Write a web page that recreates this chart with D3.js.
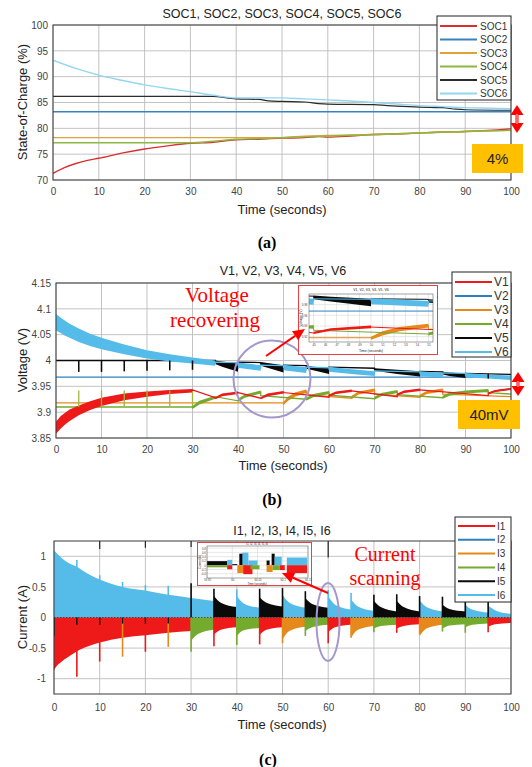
<!DOCTYPE html>
<html><head><meta charset="utf-8">
<script src="https://cdn.jsdelivr.net/npm/d3@7"></script>
<style>body{margin:0;background:#fff}svg{display:block}</style>
</head><body>
<script>
// ================= DATA =================
const timeTicks = [0,10,20,30,40,50,60,70,80,90,100];
const socTicks = [70,75,80,85,90,95,100];
const voltTicks = [3.85,3.9,3.95,4,4.05,4.1,4.15];
const currTicks = [-1,-0.5,0,0.5,1];

const socNames = ["SOC1","SOC2","SOC3","SOC4","SOC5","SOC6"];
const voltNames = ["V1","V2","V3","V4","V5","V6"];
const currNames = ["I1","I2","I3","I4","I5","I6"];

// SOC [time, %]
const SOC1 = [[0,71.3],[2.5,72.4],[5,73.2],[7.5,73.8],[10,74.2],[15,75.2],[20,76.0],[25,76.6],[30,77.1],[35,77.3],[40,77.8],[45,77.9],[50,78.1],[55,78.2],[58,78.4],[60,78.3],[65,78.5],[70,78.8],[75,78.9],[80,79.1],[85,79.3],[90,79.4],[95,79.6],[100,79.9]];
const SOC2 = [[0,83.2],[100,83.2]];
const SOC3 = [[0,78.2],[50,78.2],[55,78.5],[60,78.6],[70,78.8],[80,79.1],[90,79.4],[100,79.6]];
const SOC4 = [[0,77.2],[30,77.2],[35,77.5],[40,77.9],[45,78.0],[50,78.2],[60,78.5],[70,78.8],[80,79.1],[90,79.4],[100,79.6]];
const SOC5 = [[0,86.2],[35,86.2],[38,85.9],[40,85.7],[45,85.6],[47,85.3],[50,85.2],[55,85.1],[58,84.8],[60,84.7],[70,84.6],[73,84.4],[75,84.3],[80,84.1],[85,84.0],[88,83.7],[90,83.6],[100,83.5]];
const SOC6 = [[0,93.2],[5,91.6],[10,90.3],[15,89.3],[20,88.4],[25,87.7],[30,87.1],[35,86.4],[40,85.9],[45,85.9],[50,85.9],[55,85.7],[60,85.5],[65,85.3],[70,85.0],[75,84.7],[80,84.4],[85,84.2],[90,84.0],[95,83.9],[100,83.8]];

// Voltage bands [time, low, high]
const V1 = [[0,3.858,3.882],[0.5,3.863,3.887],[1,3.868,3.892],[2,3.876,3.899],[3,3.883,3.905],[5,3.894,3.913],[7.5,3.904,3.921],[10,3.912,3.928],[15,3.923,3.936],[20,3.930,3.940],[25,3.935,3.943],[30,3.938,3.945],
  [30,3.943,3.943],[35,3.928,3.928],
  [35,3.925,3.929],[36.5,3.931,3.936],[40,3.935,3.940],
  [40,3.938,3.938],[45,3.927,3.927],
  [45,3.925,3.929],[46.5,3.931,3.936],[50,3.936,3.941],
  [50,3.938,3.938],[60,3.929,3.929],
  [60,3.930,3.934],[61.5,3.935,3.940],[65,3.939,3.944],
  [65,3.941,3.941],[75,3.930,3.930],
  [75,3.932,3.936],[76.5,3.937,3.942],[80,3.941,3.946],
  [80,3.943,3.943],[95,3.932,3.932],
  [95,3.934,3.938],[96.5,3.939,3.943],[100,3.943,3.947]];
const V2 = [[0,3.968,3.968],[100,3.968,3.968]];
const V3 = [[0,3.918,3.918],[50,3.918,3.918],
  [50,3.914,3.920],[51,3.922,3.930],[52.5,3.930,3.938],[55,3.937,3.944],
  [55,3.934,3.934],[65,3.927,3.927],
  [65,3.926,3.932],[66.5,3.934,3.940],[70,3.940,3.946],
  [70,3.935,3.935],[80,3.929,3.929],
  [80,3.928,3.934],[81.5,3.935,3.941],[85,3.940,3.946],
  [85,3.935,3.935],[100,3.930,3.930]];
const V4 = [[0,3.910,3.910],[30,3.910,3.910],
  [30,3.906,3.912],[31.5,3.915,3.922],[35,3.926,3.932],
  [35,3.930,3.930],[40,3.922,3.922],
  [40,3.920,3.926],[41.5,3.928,3.934],[45,3.936,3.942],
  [45,3.932,3.932],[55,3.925,3.925],
  [55,3.922,3.928],[56.5,3.929,3.935],[60,3.935,3.941],
  [60,3.933,3.933],[70,3.926,3.926],
  [70,3.924,3.930],[71.5,3.931,3.937],[75,3.937,3.943],
  [75,3.934,3.934],[85,3.928,3.928],
  [85,3.926,3.932],[86.5,3.932,3.938],[90,3.936,3.942],[95,3.939,3.945],
  [95,3.938,3.938],[100,3.935,3.935]];
const V5 = [[0,4.0,4.0],[35,4.0,4.0],
  [35,3.993,4.000],[36.5,3.988,3.998],[40,3.978,3.994],
  [40,3.997,3.997],[45,3.996,3.996],
  [45,3.990,3.997],[46.5,3.986,3.995],[50,3.977,3.991],
  [50,3.991,3.991],[55,3.990,3.990],
  [55,3.984,3.990],[56.5,3.981,3.988],[60,3.974,3.986],
  [60,3.987,3.987],[70,3.985,3.985],
  [70,3.980,3.985],[75,3.974,3.982],[80,3.969,3.979],
  [80,3.979,3.979],[85,3.978,3.978],
  [85,3.973,3.978],[86.5,3.970,3.977],[90,3.966,3.975],
  [90,3.975,3.975],[100,3.973,3.973]];
const V6 = [[0,4.058,4.090],[1,4.053,4.083],[2,4.048,4.077],[3,4.044,4.071],[5,4.036,4.062],[7.5,4.028,4.052],[10,4.022,4.044],[15,4.012,4.031],[20,4.004,4.020],[25,3.998,4.012],[30,3.994,4.006],[35,3.990,4.000],
  [35,3.997,3.997],[40,3.996,3.996],
  [40,3.986,3.996],[45,3.980,3.991],
  [45,3.991,3.991],[50,3.990,3.990],
  [50,3.981,3.992],[55,3.976,3.987],
  [55,3.987,3.987],[60,3.986,3.986],
  [60,3.978,3.988],[65,3.974,3.983],[70,3.970,3.979],
  [70,3.980,3.980],[80,3.978,3.978],
  [80,3.970,3.979],[85,3.967,3.976],
  [85,3.976,3.976],[90,3.975,3.975],
  [90,3.967,3.976],[95,3.965,3.973],[100,3.962,3.971]];
// scanning spikes in voltage [time, from, to]
const V5spikes = [[5,4.0,3.978],[10,4.0,3.978],[15,4.0,3.979],[20,4.0,3.980],[25,4.0,3.981],[30,4.0,3.982],[95,3.974,3.965]];
const V4spikes = [[5,3.910,3.942],[10,3.910,3.942],[15,3.910,3.942],[20,3.910,3.942],[25,3.910,3.942],[30,3.912,3.940]];

// Current envelopes
const I6start = [[0,1.1],[1,1.02],[2,0.95],[3,0.9],[5,0.83],[7.5,0.71],[10,0.62],[12.5,0.55],[15,0.5],[20,0.44],[25,0.37],[30,0.32],[35,0.27]];
const I1start = [[0,-0.86],[0.5,-0.8],[1.5,-0.73],[3,-0.65],[5,-0.55],[7.5,-0.47],[10,-0.41],[15,-0.33],[20,-0.29],[25,-0.25],[30,-0.22]];
// [cell, t0, tMid, t1, vStart, vMid, vEnd]
const posSegs = [
  [5,35,36.5,40,0.35,0.24,0.17],[6,40,41.5,45,0.35,0.23,0.16],[5,45,46.5,50,0.33,0.24,0.18],
  [6,50,51.5,55,0.37,0.24,0.16],[5,55,56.5,60,0.32,0.22,0.16],[6,60,61.5,65,0.35,0.21,0.13],
  [6,65,66.5,70,0.30,0.18,0.11],[5,70,71.5,75,0.27,0.17,0.10],[5,75,76.5,80,0.27,0.17,0.10],
  [6,80,81.5,85,0.28,0.17,0.10],[5,85,86.5,90,0.21,0.14,0.10],[6,90,91.5,95,0.21,0.13,0.08],
  [6,95,96.5,100,0.19,0.12,0.06]];
const negSegs = [
  [4,30,31.5,35,-0.38,-0.27,-0.20],[1,35,36.5,40,-0.28,-0.20,-0.16],[4,40,41.5,45,-0.30,-0.21,-0.17],
  [1,45,46.5,50,-0.28,-0.20,-0.16],[3,50,51.5,55,-0.36,-0.22,-0.15],[4,55,56.5,60,-0.22,-0.16,-0.12],
  [1,60,61.5,65,-0.24,-0.16,-0.12],[3,65,66.5,70,-0.33,-0.20,-0.14],[4,70,71.5,75,-0.18,-0.14,-0.12],
  [1,75,76.5,80,-0.18,-0.14,-0.11],[3,80,81.5,85,-0.30,-0.18,-0.12],[4,85,86.5,90,-0.18,-0.13,-0.11],
  [4,90,91.5,95,-0.16,-0.12,-0.10],[1,95,96.5,100,-0.15,-0.11,-0.09]];
// spikes [time, cell, value]
const posSpikes = [[5,6,0.94],[10,6,0.69],[15,6,0.58],[20,6,0.53],[25,6,0.52],[30,5,0.56],[35,5,0.47],[40,6,0.46],[45,5,0.47],[50,5,0.48],[55,5,0.43],[60,6,0.45],[65,6,0.4],[70,5,0.37],[75,5,0.38],[80,5,0.35],[85,5,0.34],[90,5,0.3],[95,5,0.32]];
const negSpikes = [[0,5,-0.3],[5,1,-0.97],[10,1,-0.72],[15,3,-0.64],[20,1,-0.56],[25,3,-0.48],[30,4,-0.56],[35,1,-0.47],[40,4,-0.45],[45,1,-0.44],[50,3,-0.42],[55,4,-0.3],[60,1,-0.42],[65,3,-0.33],[70,4,-0.24],[75,1,-0.25],[80,3,-0.28],[85,4,-0.23],[90,4,-0.25],[95,1,-0.24]];
const blackNegMarks = [[5,-0.12],[10,-0.12],[15,-0.1],[20,-0.1],[25,-0.1]];
const topMarks = [[10,1.12],[20,1.14],[30,1.15],[60,0.98]];

// Inset (b): zoom of voltage
const insetBTime = [44.6,55.4];
const insetBVolt = [3.91,4.0];
const insetBXTicks = [45,46,47,48,49,50,51,52,53,54,55];
const insetBYTicks = [3.92,3.94,3.96,3.98];
// Inset (c): current scanning around 60 s  [t0, t1, cell, value]
const insetCTime = [59.95,60.15];
const insetCCurr = [-0.6,0.9];
const insetCXTicks = [59.95,60,60.05,60.1,60.15];
const insetCYTicks = [-0.4,-0.2,0,0.2,0.4,0.6,0.8];
const insetCBlocks = [
  [59.95,59.99,5,0.19],[59.99,60.0,6,0.25],[59.95,59.99,4,-0.1],[59.99,60.0,1,-0.19],
  [60.0,60.01,5,0.05],[60.014,60.022,5,0.54],[60.02,60.032,6,0.59],[60.032,60.05,6,0.22],
  [60.01,60.026,3,-0.37],[60.022,60.04,1,-0.42],[60.036,60.054,4,-0.19],
  [60.068,60.074,5,0.22],[60.078,60.084,5,0.54],[60.084,60.098,6,0.4],
  [60.068,60.08,3,-0.32],[60.08,60.094,4,-0.23],[60.094,60.104,1,-0.23],
  [60.108,60.148,6,0.36],[60.108,60.148,1,-0.37]];

// ================= STYLE =================
const COL = {1:"#ee1a1a",2:"#2f7fbf",3:"#e5891a",4:"#74ab2e",5:"#0a0a0a",6:"#55bcea"};
const SOCCOL = ["#d9302f","#3a82bd","#e0a03a","#8cb842","#2b2b2b","#93d6f0"];
const GRID = "#bcbcbc";
const FONT = "'Liberation Sans', Arial, sans-serif";
const SERIF = "'Liberation Serif', 'Times New Roman', serif";

const svg = d3.select("body").append("svg").attr("width",532).attr("height",767)
  .style("font-family",FONT);

let clipN = 0;
function panel(cfg){
  const {x,y,xt,yt} = cfg;
  const [x0,x1] = x.range(), [yb,yt0] = y.range();
  const g = svg.append("g");
  g.append("rect").attr("x",x0).attr("y",yt0).attr("width",x1-x0).attr("height",yb-yt0).attr("fill","#fff");
  g.append("g").selectAll("line").data(xt).join("line")
    .attr("x1",d=>x(d)).attr("x2",d=>x(d)).attr("y1",yt0).attr("y2",yb)
    .attr("stroke",cfg.grid||GRID).attr("stroke-width",cfg.gw||0.9);
  g.append("g").selectAll("line").data(yt).join("line")
    .attr("y1",d=>y(d)).attr("y2",d=>y(d)).attr("x1",x0).attr("x2",x1)
    .attr("stroke",cfg.grid||GRID).attr("stroke-width",cfg.gw||0.9);
  const id = "clip"+(clipN++);
  svg.append("clipPath").attr("id",id).append("rect")
    .attr("x",x0).attr("y",yt0).attr("width",x1-x0).attr("height",yb-yt0);
  const data = g.append("g").attr("clip-path",`url(#${id})`);
  return {g,data};
}
function frame(g,cfg){
  const {x,y,xt,yt} = cfg;
  const [x0,x1] = x.range(), [yb,yt0] = y.range();
  g.append("rect").attr("x",x0).attr("y",yt0).attr("width",x1-x0).attr("height",yb-yt0)
    .attr("fill","none").attr("stroke",cfg.frameCol||"#3a3a3a").attr("stroke-width",cfg.fw||1);
  const fs = cfg.tickFs||10;
  const ax = g.append("g").attr("transform",`translate(0,${yb})`)
    .call(d3.axisBottom(x).tickValues(xt).tickSize(0).tickPadding(cfg.xPad).tickFormat(d=>String(d)));
  const ay = g.append("g").attr("transform",`translate(${x0},0)`)
    .call(d3.axisLeft(y).tickValues(yt).tickSize(0).tickPadding(cfg.yPad).tickFormat(d=>String(d)));
  [ax,ay].forEach(a=>{a.select(".domain").remove();
    a.selectAll("text").attr("fill",cfg.tickCol||"#444").style("font-size",fs+"px").style("font-family",FONT);});
}

// ================= PANEL (a) SOC =================
const xA = d3.scaleLinear().domain([0,100]).range([53,511]);
const yA = d3.scaleLinear().domain([70,100]).range([180,25]);
const cfgA = {x:xA,y:yA,xt:timeTicks,yt:socTicks,xPad:8,yPad:5};
const pA = panel(cfgA);
const lineA = d3.line().x(d=>xA(d[0])).y(d=>yA(d[1])).curve(d3.curveMonotoneX);
[SOC1,SOC2,SOC3,SOC4,SOC5,SOC6].forEach((s,i)=>{
  pA.data.append("path").attr("d",lineA(s)).attr("fill","none")
    .attr("stroke",SOCCOL[i]).attr("stroke-width",i===4?1.2:1.4);
});
frame(pA.g,cfgA);

// ================= PANEL (b) VOLTAGE =================
const xB = d3.scaleLinear().domain([0,100]).range([56,511]);
const yB = d3.scaleLinear().domain([3.85,4.15]).range([438,283]);
const cfgB = {x:xB,y:yB,xt:timeTicks,yt:voltTicks,xPad:8,yPad:5};
const pB = panel(cfgB);
function drawVolt(target,x,y,lw){
  const area = d3.area().x(d=>x(d[0])).y0(d=>y(d[1])).y1(d=>y(d[2]));
  const line = d3.line().x(d=>x(d[0])).y(d=>y((d[1]+d[2])/2));
  const order = [[V2,2],[V3,3],[V4,4],[V1,1],[V5,5],[V6,6]];
  order.forEach(([s,c])=>{
    target.append("path").attr("d",area(s)).attr("fill",COL[c]).attr("stroke","none");
    target.append("path").attr("d",line(s)).attr("fill","none").attr("stroke",COL[c]).attr("stroke-width",lw);
  });
  target.append("g").selectAll("line").data(V4spikes).join("line")
    .attr("x1",d=>x(d[0])).attr("x2",d=>x(d[0])).attr("y1",d=>y(d[1])).attr("y2",d=>y(d[2]))
    .attr("stroke","#9bb83a").attr("stroke-width",lw);
  target.append("g").selectAll("line").data(V5spikes).join("line")
    .attr("x1",d=>x(d[0])).attr("x2",d=>x(d[0])).attr("y1",d=>y(d[1])).attr("y2",d=>y(d[2]))
    .attr("stroke",COL[5]).attr("stroke-width",lw*1.2);
}
drawVolt(pB.data,xB,yB,1.3);
frame(pB.g,cfgB);

// ================= PANEL (c) CURRENT =================
const xC = d3.scaleLinear().domain([0,100]).range([54,511]);
const yC = d3.scaleLinear().domain([-1.25,1.25]).range([694,541]);
const cfgC = {x:xC,y:yC,xt:timeTicks,yt:currTicks,xPad:10,yPad:8};
const pC = panel(cfgC);
const areaC = d3.area().x(d=>xC(d[0])).y0(yC(0)).y1(d=>yC(d[1])).curve(d3.curveMonotoneX);
pC.data.append("path").attr("d",areaC(I6start)).attr("fill",COL[6]);
pC.data.append("path").attr("d",areaC(I1start)).attr("fill",COL[1]);
posSegs.concat(negSegs).forEach(s=>{
  const pts = [[s[1],s[4]],[s[2],s[5]],[s[3],s[6]]];
  pC.data.append("path").attr("d",areaC(pts)).attr("fill",COL[s[0]]);
});
pC.data.append("g").selectAll("line").data(posSpikes.concat(negSpikes)).join("line")
  .attr("x1",d=>xC(d[0])).attr("x2",d=>xC(d[0])).attr("y1",yC(0)).attr("y2",d=>yC(d[2]))
  .attr("stroke",d=>COL[d[1]]).attr("stroke-width",1.6);
pC.data.append("g").selectAll("line").data(blackNegMarks).join("line")
  .attr("x1",d=>xC(d[0])).attr("x2",d=>xC(d[0])).attr("y1",yC(0)).attr("y2",d=>yC(d[1]))
  .attr("stroke","#111").attr("stroke-width",1.4);
pC.data.append("g").selectAll("line").data(topMarks).join("line")
  .attr("x1",d=>xC(d[0])).attr("x2",d=>xC(d[0])).attr("y1",yC(1.25)).attr("y2",d=>yC(d[1]))
  .attr("stroke","#222").attr("stroke-width",1.2);
pC.data.append("line").attr("x1",xC(0)).attr("x2",xC(100)).attr("y1",yC(0)).attr("y2",yC(0))
  .attr("stroke","#333").attr("stroke-width",0.8).attr("stroke-dasharray","1.5,1.5");
frame(pC.g,cfgC);

// ================= TEXT =================
function txt(x,y,s,opt={}){
  const t = svg.append("text").attr("x",x).attr("y",y).text(s)
    .attr("text-anchor",opt.anchor||"middle").style("font-size",(opt.fs||12)+"px")
    .style("font-family",opt.ff||FONT).attr("fill",opt.fill||"#222");
  if(opt.bold) t.style("font-weight","bold");
  if(opt.rot) t.attr("transform",`rotate(-90,${x},${y})`);
  return t;
}
// titles
txt(282,18,"SOC1, SOC2, SOC3, SOC4, SOC5, SOC6",{fs:12.5});
txt(283,275,"V1, V2, V3, V4, V5, V6",{fs:12.5});
txt(282,535,"I1, I2, I3, I4, I5, I6",{fs:12.5});
// x labels
txt(282,214,"Time (seconds)",{fs:13});
txt(283,470,"Time (seconds)",{fs:13});
txt(282,729,"Time (seconds)",{fs:13});
// y labels
txt(27,102,"State-of-Charge (%)",{fs:13,rot:true});
txt(27,360,"Voltage (V)",{fs:13,rot:true});
txt(27,617,"Current (A)",{fs:13,rot:true});
// panel letters
txt(267,248,"(a)",{fs:16,ff:SERIF,bold:true,fill:"#000"});
txt(272,505,"(b)",{fs:16,ff:SERIF,bold:true,fill:"#000"});
txt(268,765,"(c)",{fs:16,ff:SERIF,bold:true,fill:"#000"});

// ================= LEGENDS =================
function legend(bx,by,bw,bh,names,cols,lx1,lx2,tx,y0,dy,fs){
  const g = svg.append("g");
  g.append("rect").attr("x",bx).attr("y",by).attr("width",bw).attr("height",bh)
    .attr("fill","#fff").attr("stroke","#222").attr("stroke-width",1);
  names.forEach((n,i)=>{
    const yy = y0+i*dy;
    g.append("line").attr("x1",lx1).attr("x2",lx2).attr("y1",yy).attr("y2",yy)
      .attr("stroke",cols[i]).attr("stroke-width",2);
    g.append("text").attr("x",tx).attr("y",yy).attr("dy","0.35em").text(n)
      .style("font-size",fs+"px").attr("fill","#333");
  });
}
legend(437,16,74,84,socNames,SOCCOL,440,477,480,26,13.5,10);
legend(452,272,59,85,voltNames,[1,2,3,4,5,6].map(c=>COL[c]),455,492,494,282,14,12);
legend(455,517,56,85,currNames,[1,2,3,4,5,6].map(c=>COL[c]),458,495,497,526,13.8,10);

// ================= ANNOTATIONS =================
function dblArrow(x,y1,y2){
  const g = svg.append("g").attr("fill","#ff0000");
  g.append("rect").attr("x",x-1.5).attr("y",y1+6).attr("width",3).attr("height",y2-y1-12);
  g.append("path").attr("d",`M${x},${y1} L${x+6.5},${y1+10} L${x-6.5},${y1+10}Z`);
  g.append("path").attr("d",`M${x},${y2} L${x+6.5},${y2-10} L${x-6.5},${y2-10}Z`);
  g.append("line").attr("x1",x).attr("x2",x).attr("y1",y1+9).attr("y2",y2-9).attr("stroke","#fff").attr("stroke-width",0.8);
}
function badge(x,y,w,h,s){
  svg.append("rect").attr("x",x).attr("y",y).attr("width",w).attr("height",h).attr("fill","#ffc000");
  txt(x+w/2,y+h/2,s,{fs:15,fill:"#222"}).attr("dy","0.36em");
}
function arrow(x1,y1,x2,y2){
  const a = Math.atan2(y2-y1,x2-x1), L=12, Wd=5.5;
  const bx = x2-L*Math.cos(a), by = y2-L*Math.sin(a);
  svg.append("line").attr("x1",x1).attr("y1",y1).attr("x2",bx).attr("y2",by)
    .attr("stroke","#ff0000").attr("stroke-width",2);
  svg.append("path").attr("fill","#ff0000")
    .attr("d",`M${x2},${y2} L${bx+Wd*Math.sin(a)},${by-Wd*Math.cos(a)} L${bx-Wd*Math.sin(a)},${by+Wd*Math.cos(a)}Z`);
}
dblArrow(517,105,133);
badge(472,144,51,29,"4%");
dblArrow(518,372,396);
badge(458,400,62,29,"40mV");

txt(217,302,"Voltage",{fs:21,ff:SERIF,fill:"#ff0000"});
txt(215,327,"recovering",{fs:21,ff:SERIF,fill:"#ff0000"});
txt(385,561,"Current",{fs:20,ff:SERIF,fill:"#ff0000"});
txt(385,585,"scanning",{fs:20,ff:SERIF,fill:"#ff0000"});

svg.append("circle").attr("cx",272).attr("cy",379).attr("r",38.5)
  .attr("fill","none").attr("stroke","#a597cc").attr("stroke-width",2);
svg.append("ellipse").attr("cx",328).attr("cy",622).attr("rx",11.5).attr("ry",39)
  .attr("fill","none").attr("stroke","#a597cc").attr("stroke-width",2);

// ================= INSET (b) =================
(function(){
  svg.append("rect").attr("x",298.5).attr("y",285.5).attr("width",139).attr("height",69)
    .attr("fill","#fff").attr("stroke","#e84040").attr("stroke-width",1);
  const xi = d3.scaleLinear().domain(insetBTime).range([309,433]);
  const yi = d3.scaleLinear().domain(insetBVolt).range([342,294]);
  const cfg = {x:xi,y:yi,xt:insetBXTicks,yt:insetBYTicks,xPad:2,yPad:1.5,tickFs:3,gw:0.5,grid:"#d0d0d0",fw:0.6,frameCol:"#666"};
  const p = panel(cfg);
  drawVolt(p.data,xi,yi,1);
  frame(p.g,cfg);
  txt(371,291,"V1, V2, V3, V4, V5, V6",{fs:3.5});
  txt(371,352,"Time (seconds)",{fs:3.5});
  txt(302,318,"Voltage (V)",{fs:3.5,rot:true});
})();

// ================= INSET (c) =================
(function(){
  svg.append("rect").attr("x",197.5).attr("y",542.5).attr("width",114).attr("height",43)
    .attr("fill","#fff").attr("stroke","#e84040").attr("stroke-width",1);
  const xi = d3.scaleLinear().domain(insetCTime).range([207,308]);
  const yi = d3.scaleLinear().domain(insetCCurr).range([578,546]);
  const cfg = {x:xi,y:yi,xt:insetCXTicks,yt:insetCYTicks,xPad:1.5,yPad:1.2,tickFs:2.8,gw:0.5,grid:"#d0d0d0",fw:0.6,frameCol:"#666"};
  const p = panel(cfg);
  p.data.selectAll("rect.blk").data(insetCBlocks).join("rect")
    .attr("x",d=>xi(d[0])).attr("width",d=>xi(d[1])-xi(d[0]))
    .attr("y",d=>d[3]>0?yi(d[3]):yi(0)).attr("height",d=>Math.abs(yi(d[3])-yi(0)))
    .attr("fill",d=>COL[d[2]]);
  frame(p.g,cfg);
  txt(257,544.8,"I1, I2, I3, I4, I5, I6",{fs:2.8});
  txt(257,585,"Time (seconds)",{fs:2.8});
  txt(201,562,"Current (A)",{fs:2.8,rot:true});
})();

arrow(266,356,305,329);
arrow(328,593,282,573);
</script>
</body></html>
